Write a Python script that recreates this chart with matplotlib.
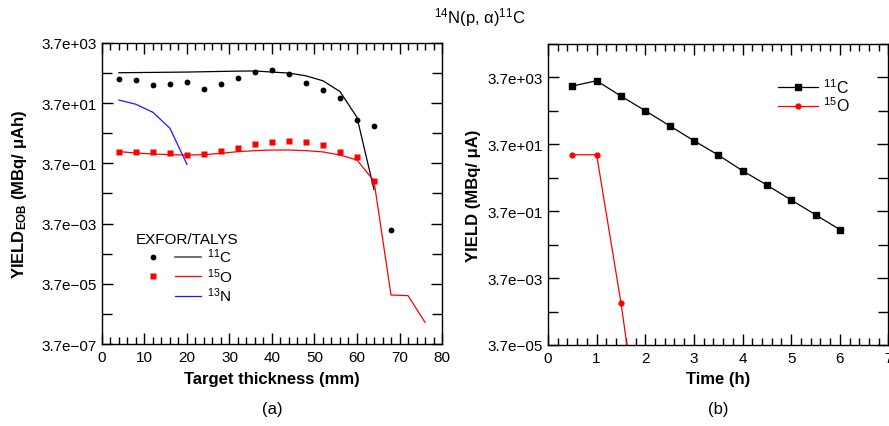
import matplotlib
matplotlib.use("Agg")
import matplotlib.pyplot as plt
from matplotlib.ticker import FixedLocator, FixedFormatter, MultipleLocator
from matplotlib.lines import Line2D
from matplotlib.legend_handler import HandlerTuple

plt.rcParams['font.family'] = ['Liberation Sans', 'DejaVu Sans']
plt.rcParams['mathtext.fontset'] = 'custom'
plt.rcParams['mathtext.rm'] = 'Liberation Sans'
plt.rcParams['mathtext.it'] = 'Liberation Sans:italic'
plt.rcParams['mathtext.bf'] = 'Liberation Sans:bold'
plt.rcParams['mathtext.default'] = 'regular'

# ---- panel (a): yield vs target thickness ----
exfor_x = [4, 8, 12, 16, 20, 24, 28, 32, 36, 40, 44, 48, 52, 56, 60, 64, 68]
exfor_c11 = [235, 224, 149, 161, 182, 112, 161, 261, 413, 457, 336, 178, 102, 55, 10.2, 6.5, 0.0022]
exfor_o15_x = [4, 8, 12, 16, 20, 24, 28, 32, 36, 40, 44, 48, 52, 56, 60, 64]
exfor_o15 = [0.91, 0.89, 0.87, 0.82, 0.72, 0.76, 0.96, 1.2, 1.63, 1.9, 2.1, 1.9, 1.55, 0.89, 0.62, 0.095]

talys_c11_x = [4, 8, 12, 16, 20, 24, 28, 32, 36, 40, 44, 48, 52, 56, 60, 64]
talys_c11 = [380, 385, 390, 395, 400, 410, 420, 430, 435, 400, 370, 300, 205, 90, 12.5, 0.05]
talys_o15_x = [4, 8, 12, 16, 20, 24, 28, 32, 36, 40, 44, 48, 52, 56, 60, 64, 68, 72, 76]
talys_o15 = [0.91, 0.82, 0.76, 0.72, 0.70, 0.72, 0.80, 0.91, 0.98, 1.03, 1.03, 0.98, 0.89, 0.70, 0.48,
             0.096, 1.57e-5, 1.5e-5, 1.94e-6]
talys_n13_x = [4, 8, 12, 16, 20]
talys_n13 = [47, 34, 18.4, 5.4, 0.34]

# ---- panel (b): yield vs time ----
time_c11 = [0.5, 1, 1.5, 2, 2.5, 3, 3.5, 4, 4.5, 5, 5.5, 6]
yield_c11 = [2040, 2940, 1023, 373, 133, 47.4, 17.7, 6.0, 2.24, 0.80, 0.29, 0.104]
time_o15 = [0.5, 1, 1.5, 2]
yield_o15 = [18.1, 18.1, 6.8e-4, 5e-9]

ytick_a = [3.7e3, 3.7e1, 3.7e-1, 3.7e-3, 3.7e-5, 3.7e-7]
ytick_a_labels = ['3.7e+03', '3.7e+01', '3.7e\u221201', '3.7e\u221203', '3.7e\u221205', '3.7e\u221207']
yminor_a = [3.7e2, 3.7e0, 3.7e-2, 3.7e-4, 3.7e-6]

ytick_b_lab = [3.7e3, 3.7e1, 3.7e-1, 3.7e-3, 3.7e-5]
ytick_b_labels = ['3.7e+03', '3.7e+01', '3.7e\u221201', '3.7e\u221203', '3.7e\u221205']
yminor_b = [3.7e4, 3.7e2, 3.7e0, 3.7e-2, 3.7e-4]

fig = plt.figure(figsize=(8.89, 4.27), dpi=100)
ax1 = fig.add_axes([0.1147, 0.192, 0.3825, 0.705])
ax2 = fig.add_axes([0.6164, 0.1897, 0.3830, 0.705])

lw = 0.9
# Panel a
ax1.plot(talys_c11_x, talys_c11, color='black', lw=lw)
ax1.plot(talys_o15_x, talys_o15, color='#ff0000', lw=lw)
ax1.plot(talys_n13_x, talys_n13, color='#1a1aff', lw=lw)
ax1.plot(exfor_x, exfor_c11, 'o', color='black', ms=4.2, mec='none')
ax1.plot(exfor_o15_x, exfor_o15, 's', color='#ff0000', ms=5.0, mec='none')
ax1.set_yscale('log')
ax1.set_xlim(0, 80)
ax1.set_ylim(3.7e-7, 3.7e3)
ax1.yaxis.set_major_locator(FixedLocator(ytick_a))
ax1.yaxis.set_major_formatter(FixedFormatter(ytick_a_labels))
ax1.yaxis.set_minor_locator(FixedLocator(yminor_a))
ax1.yaxis.set_minor_formatter(FixedFormatter([''] * len(yminor_a)))
ax1.xaxis.set_major_locator(MultipleLocator(10))
ax1.xaxis.set_minor_locator(MultipleLocator(2))
ax1.set_xlabel('Target thickness (mm)', fontsize=12, fontweight='bold', labelpad=5)
ax1.set_ylabel('YIELD$_{\\mathbf{EOB}}$ (MBq/ μAh)', fontsize=12, fontweight='bold', labelpad=9)

h_c = (Line2D([], [], ls='none', marker='o', color='black', ms=4.2, mec='none'),
       Line2D([], [], color='#555555', lw=1.2))
h_o = (Line2D([], [], ls='none', marker='s', color='#ff0000', ms=5.0, mec='none'),
       Line2D([], [], color='#ff0000', lw=lw))
h_n = (Line2D([], [], ls='none'),
       Line2D([], [], color='#1a1aff', lw=lw))
leg1 = ax1.legend([h_c, h_o, h_n], ['$^{11}$C', '$^{15}$O', '$^{13}$N'],
                  handler_map={tuple: HandlerTuple(ndivide=None, pad=0.6)},
                  title='EXFOR/TALYS', title_fontsize=11, fontsize=11,
                  frameon=False, loc='lower left', bbox_to_anchor=(0.08, 0.113),
                  handlelength=4.0, handletextpad=0.4, labelspacing=0.05, borderaxespad=0)

# Panel b
ax2.plot(time_c11, yield_c11, '-s', color='black', lw=lw, ms=5.0, label='$^{11}$C')
ax2.plot(time_o15, yield_o15, '-o', color='#ff0000', lw=lw, ms=3.5, label='$^{15}$O')
ax2.set_yscale('log')
ax2.set_xlim(0, 7)
ax2.set_ylim(3.7e-5, 3.7e4)
ax2.yaxis.set_major_locator(FixedLocator(ytick_b_lab))
ax2.yaxis.set_major_formatter(FixedFormatter(ytick_b_labels))
ax2.yaxis.set_minor_locator(FixedLocator(yminor_b))
ax2.yaxis.set_minor_formatter(FixedFormatter([''] * len(yminor_b)))
ax2.xaxis.set_major_locator(MultipleLocator(1))
ax2.xaxis.set_minor_locator(MultipleLocator(0.2))
ax2.set_xlabel('Time (h)', fontsize=12, fontweight='bold', labelpad=5)
ax2.set_ylabel('YIELD (MBq/ μA)', fontsize=12, fontweight='bold', labelpad=4)
ax2.legend(frameon=False, loc='upper right', bbox_to_anchor=(0.905, 0.912), fontsize=11.5,
           handlelength=2.5, handletextpad=0.3, labelspacing=0.0, borderaxespad=0)

for ax in (ax1, ax2):
    ax.tick_params(which='both', direction='in', top=True, right=True, labelsize=11, width=1)
    ax.tick_params(which='major', length=8, pad=4)
    ax.tick_params(which='minor', length=5)
    ax.tick_params(axis='y', which='minor', length=7)
    for s in ax.spines.values():
        s.set_linewidth(1)

fig.text(0.54, 0.96, '$^{14}$N(p, $\\alpha$)$^{11}$C', ha='center', va='center', fontsize=12,
         family='Liberation Sans')
fig.text(0.306, 0.04, '(a)', ha='center', va='center', fontsize=12)
fig.text(0.808, 0.04, '(b)', ha='center', va='center', fontsize=12)

fig.savefig('out.png', dpi=100)
